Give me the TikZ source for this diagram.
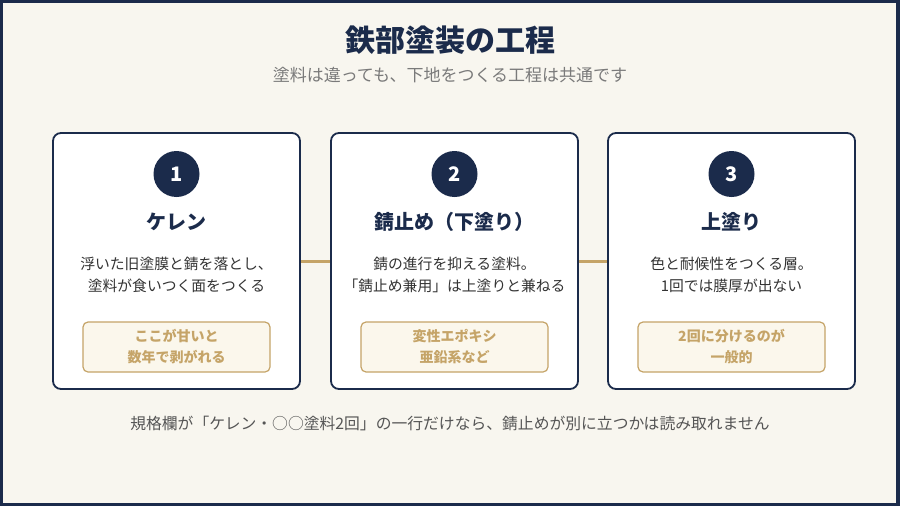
\documentclass[tikz,border=0pt]{standalone}
\usepackage{fontspec}
\setmainfont{Noto Sans CJK JP}
\usepackage{xcolor}
\usepackage{tikz}
\usetikzlibrary{positioning}
\definecolor{navy}{HTML}{1B2B4B}
\definecolor{gold}{HTML}{C5A468}
\definecolor{cream}{HTML}{F8F6EF}
\definecolor{tagfill}{HTML}{FBF7EC}
\definecolor{subgray}{HTML}{7A7A7A}
\definecolor{bodygray}{HTML}{333333}
\definecolor{footgray}{HTML}{555555}

\begin{document}
\begin{tikzpicture}[
        x=1pt, y=-1pt,
        stepcard/.style={
            rectangle,
            draw=navy,
            line width=1.8pt,
            fill=white,
            rounded corners=8pt,
            minimum width=247pt,
            minimum height=256pt
        },
        num/.style={
            circle,
            fill=navy,
            text=white,
            minimum size=46pt,
            inner sep=0pt,
            font=\fontsize{20}{20}\selectfont\bfseries
        },
        steptitle/.style={
            text=navy,
            inner sep=0pt,
            font=\fontsize{20}{20}\selectfont\bfseries
        },
        desc/.style={
            text=bodygray,
            align=center,
            inner sep=0pt,
            font=\fontsize{14.8}{22}\selectfont
        },
        tag/.style={
            rectangle,
            draw=gold,
            line width=1.2pt,
            fill=tagfill,
            rounded corners=5pt,
            minimum width=187pt,
            minimum height=50pt,
            text=gold,
            align=center,
            inner sep=0pt,
            font=\fontsize{14}{21}\selectfont\bfseries
        },
        link/.style={
            draw=gold,
            line width=3pt
        }
    ]
        % frame
        \fill[navy] (0,0) rectangle (900,506);
        \fill[cream] (3,3) rectangle (896,503);
        \useasboundingbox (0,0) rectangle (900,506);

        % heading
        \node[text=navy, font=\fontsize{30}{30}\selectfont\bfseries] (title) at (450,40) {鉄部塗装の工程};
        \node[text=subgray, font=\fontsize{17}{17}\selectfont] (subtitle) at (450,75) {塗料は違っても、下地をつくる工程は共通です};

        % Step 1
        \node[stepcard] (card1) at (176.5,261) {};
        \node[num] (num1) at (176.5,174) {1};
        \node[steptitle] (head1) at (176.5,222) {ケレン};
        \node[desc] (desc1) at (176.5,275) {浮いた旧塗膜と錆を落とし、\\塗料が食いつく面をつくる};
        \node[tag] (tag1) at (176.5,347) {ここが甘いと\\数年で剥がれる};

        % Step 2
        \node[stepcard] (card2) at (454.5,261) {};
        \node[num] (num2) at (454.5,174) {2};
        \node[steptitle] (head2) at (454.5,222) {錆止め（下塗り）};
        \node[desc] (desc2) at (454.5,275) {錆の進行を抑える塗料。\\「錆止め兼用」は上塗りと兼ねる};
        \node[tag] (tag2) at (454.5,347) {変性エポキシ\\亜鉛系など};

        % Step 3
        \node[stepcard] (card3) at (731.5,261) {};
        \node[num] (num3) at (731.5,174) {3};
        \node[steptitle] (head3) at (731.5,222) {上塗り};
        \node[desc] (desc3) at (731.5,275) {色と耐候性をつくる層。\\1回では膜厚が出ない};
        \node[tag] (tag3) at (731.5,347) {2回に分けるのが\\一般的};

        % links
        \draw[link] (card1) -- (card2);
        \draw[link] (card2) -- (card3);

        % footnote
        \node[text=footgray, font=\fontsize{15.8}{15.8}\selectfont] (note) at (450,423) {規格欄が「ケレン・○○塗料2回」の一行だけなら、錆止めが別に立つかは読み取れません};
    \end{tikzpicture}
\end{document}
